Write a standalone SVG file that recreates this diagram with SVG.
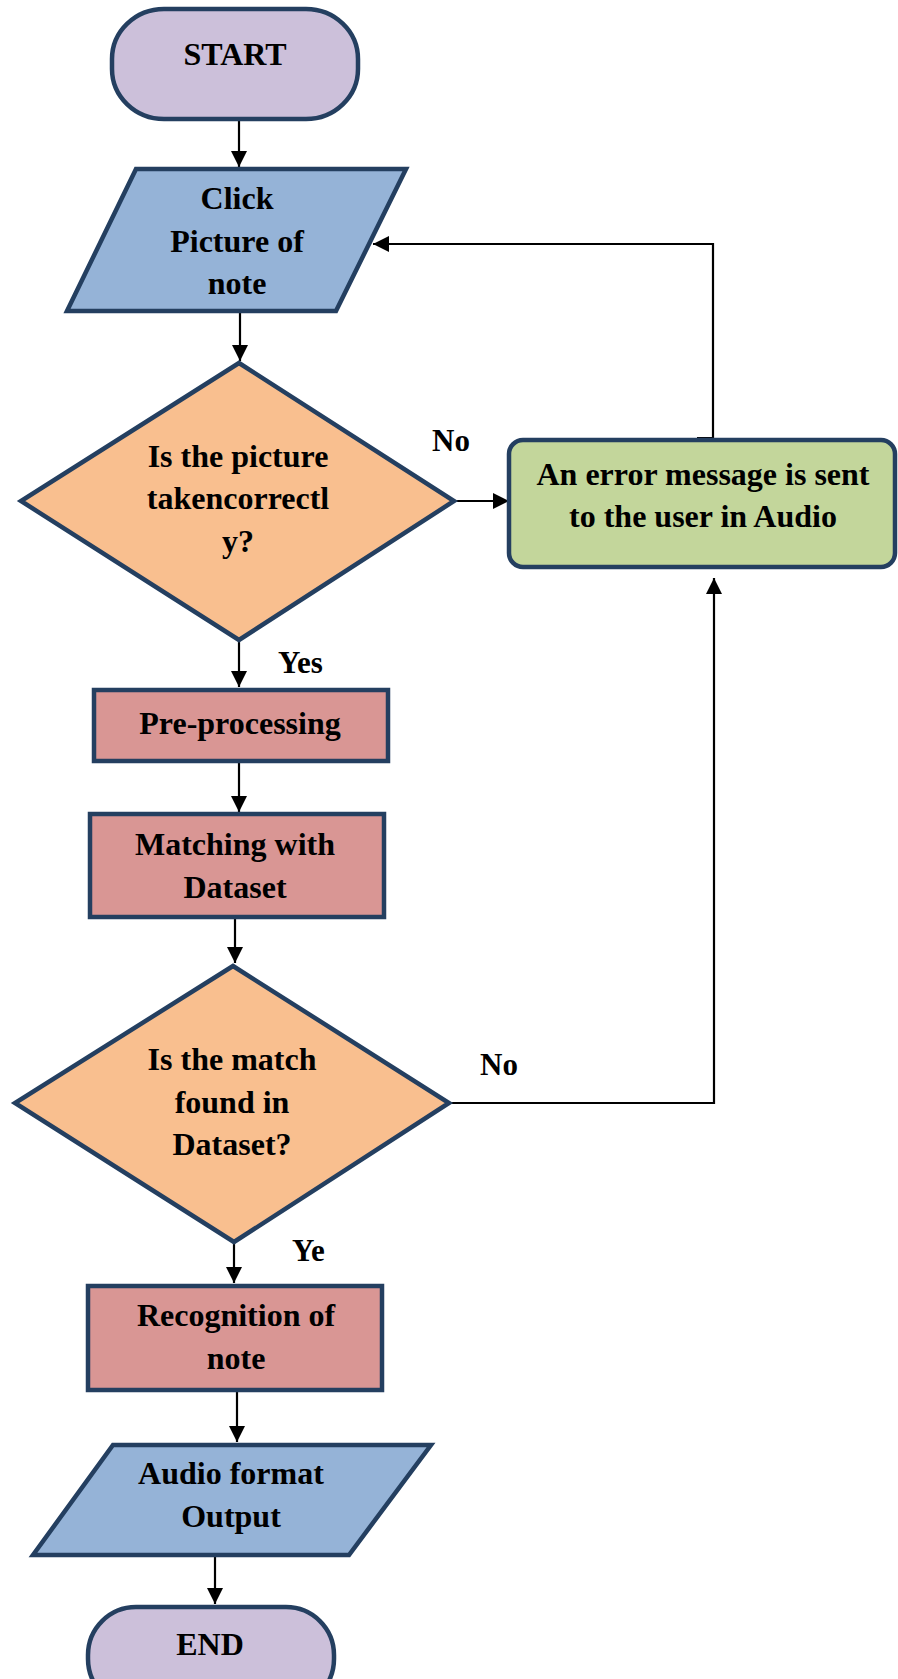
<svg xmlns="http://www.w3.org/2000/svg" width="898" height="1679" viewBox="0 0 898 1679">
<defs>
<style>
.n{stroke:#243F60;stroke-width:4.5;stroke-linejoin:miter}
.term{fill:#CCC0DA}
.io{fill:#95B3D7}
.dec{fill:#F9BF8F}
.proc{fill:#D99694}
.msg{fill:#C3D69B}
.t{font-family:"Liberation Serif","Times New Roman",serif;font-weight:bold;font-size:32px;fill:#000;text-anchor:middle}
.lbl{font-family:"Liberation Serif","Times New Roman",serif;font-weight:bold;font-size:31px;fill:#000}
.c{fill:none;stroke:#000;stroke-width:2.2}
</style>
<marker id="ah" viewBox="0 0 10 10" refX="10" refY="5" markerWidth="16" markerHeight="16" markerUnits="userSpaceOnUse" orient="auto">
<path d="M0,0 L10,5 L0,10 z" fill="#000"/>
</marker>
</defs>
<rect width="898" height="1679" fill="#fff"/>

<g id="connectors">
<path class="c" d="M239,121 V167" marker-end="url(#ah)"/>
<path class="c" d="M240,312 V361" marker-end="url(#ah)"/>
<path class="c" d="M455,501 H509" marker-end="url(#ah)"/>
<path class="c" d="M697,438 H713 V244 H373" marker-end="url(#ah)"/>
<path class="c" d="M239,642 V687" marker-end="url(#ah)"/>
<path class="c" d="M239,762 V812" marker-end="url(#ah)"/>
<path class="c" d="M227,918 H235 V963" marker-end="url(#ah)"/>
<path class="c" d="M451,1103 H714 V578" marker-end="url(#ah)"/>
<path class="c" d="M234,1243 V1283" marker-end="url(#ah)"/>
<path class="c" d="M237,1391 V1442" marker-end="url(#ah)"/>
<path class="c" d="M215,1556 V1604" marker-end="url(#ah)"/>
</g>

<g id="start">
<rect class="n term" x="112" y="9" width="246" height="110" rx="52" ry="50"/>
<text class="t" x="235" y="65">START</text>
</g>

<g id="click">
<polygon class="n io" points="136,169 406,169 336,311 67,311"/>
<text class="t" x="237" y="209">Click</text>
<text class="t" x="237" y="252">Picture of</text>
<text class="t" x="237" y="294">note</text>
</g>

<g id="decision1">
<polygon class="n dec" points="239,363 454,501 239,640 21,501"/>
<text class="t" x="238" y="467">Is the picture</text>
<text class="t" x="238" y="509">takencorrectl</text>
<text class="t" x="238" y="552">y?</text>
</g>

<g id="error">
<rect class="n msg" x="509" y="440" width="386" height="127" rx="14" ry="14"/>
<text class="t" x="703" y="485">An error message is sent</text>
<text class="t" x="703" y="527">to the user in Audio</text>
</g>

<g id="labels">
<text class="lbl" x="432" y="451">No</text>
<text class="lbl" x="278" y="673">Yes</text>
<text class="lbl" x="480" y="1075">No</text>
<text class="lbl" x="292" y="1261">Ye</text>
</g>

<g id="preprocessing">
<rect class="n proc" x="94" y="690" width="294" height="71"/>
<text class="t" x="240" y="734">Pre-processing</text>
</g>

<g id="matching">
<rect class="n proc" x="90" y="814" width="294" height="103"/>
<text class="t" x="235" y="855">Matching with</text>
<text class="t" x="235" y="898">Dataset</text>
</g>

<g id="decision2">
<polygon class="n dec" points="233,966 449,1103 234,1242 15,1103"/>
<text class="t" x="232" y="1070">Is the match</text>
<text class="t" x="232" y="1113">found in</text>
<text class="t" x="232" y="1155">Dataset?</text>
</g>

<g id="recognition">
<rect class="n proc" x="88" y="1286" width="294" height="104"/>
<text class="t" x="236" y="1326">Recognition of</text>
<text class="t" x="236" y="1369">note</text>
</g>

<g id="output">
<polygon class="n io" points="113,1445 431,1445 349,1555 33,1555"/>
<text class="t" x="231" y="1484">Audio format</text>
<text class="t" x="231" y="1527">Output</text>
</g>

<g id="end">
<rect class="n term" x="88" y="1607" width="246" height="100" rx="48" ry="48"/>
<text class="t" x="210" y="1655">END</text>
</g>
</svg>
